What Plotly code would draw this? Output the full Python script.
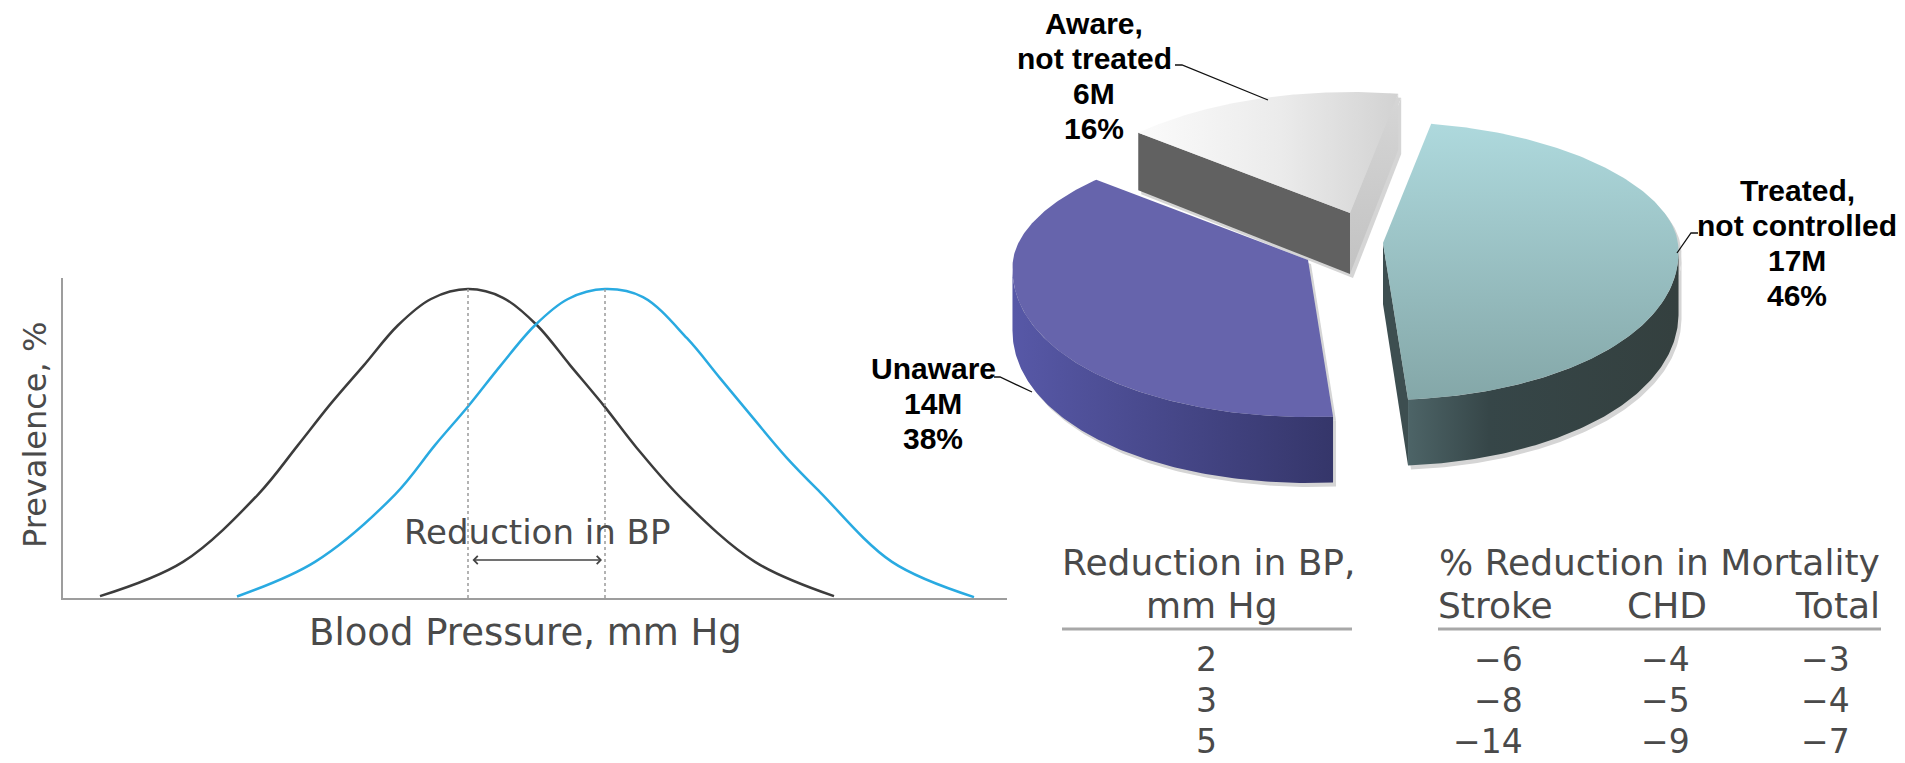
import numpy as np
import plotly.graph_objects as go

W, H = 1905, 763

# ---------------- data ----------------
# Left panel: BP distributions (arbitrary BP units) vs prevalence (% of peak)
bp_baseline = [17.4, 25.2, 33.2, 37.2, 40.5, 43.8, 47.2, 50.5, 54.2, 58.0, 62.4, 65.7, 69.0, 72.4, 75.7, 82.9, 91.1]
prev_baseline = [0.5, 11.7, 33.5, 49.5, 62.0, 75.4, 88.3, 96.8, 100.0, 97.4, 84.1, 71.2, 58.3, 45.3, 34.3, 11.7, 0.3]
bp_reduced = [3.7, 12.0, 19.5, 23.5, 26.8, 30.1, 33.5, 36.8, 40.5, 44.0, 47.4, 50.7, 54.2, 57.4, 62.0, 69.2, 77.1]
prev_reduced = [0.6, 11.7, 33.5, 49.5, 63.0, 75.4, 88.3, 96.8, 100.0, 97.2, 88.3, 75.4, 61.8, 48.5, 31.7, 11.7, 0.6]

# Pie: hypertension status
pie_names = [["Treated,", "not controlled"], ["Unaware"], ["Aware,", "not treated"]]
pie_millions = [17, 14, 6]
pie_percent = [46, 38, 16]

# Table
bp_reduction = [2, 3, 5]
stroke = [-6, -8, -14]
chd = [-4, -5, -9]
total = [-3, -4, -7]

# ---------------- style / layout constants ----------------
GREY_TXT = "#4a4a4a"
LIGHT_FONT = "DejaVu Sans, Liberation Sans, Arial, sans-serif"
BOLD_FONT = "Liberation Sans, Arial, sans-serif"
AXIS_GREY = "#9d9d9d"

PIE_CX, PIE_CY = 1345, 240
PIE_A = 295
PIE_B_BACK, PIE_B_FRONT = 121, 157
PIE_PERSP = 0.06
PIE_DEPTH, PIE_DDEPTH = 61, 5
PIE_START = -80.0
PIE_PULL = [(38, 3), (-37, 20), (5, -27)]
SHADOW_OFF = (3, 4)
SHADOW_COL = "#d5d5d5"
SLICE_STYLE = [
    dict(top=("vertical", [[0, "#aed9dd"], [1, "#84a7a8"]]),
         wall=("horizontal", [[0, "#4d6467"], [0.3, "#364648"], [1, "#34403f"]]),
         face_s="#3b4b4d", face_e="#3d4e50"),
    dict(top="#6664ac",
         wall=("horizontal", [[0, "#5758a7"], [1, "#35366a"]]),
         face_s="#4a4a8e", face_e="#4a4a8e"),
    dict(top=("horizontal", [[0, "#fbfbfb"], [0.55, "#ebebeb"], [1, "#d2d2d2"]]),
         wall="#bdbdbd",
         face_s="#616161", face_e=("vertical", [[0, "#d6d6d6"], [1, "#c2c2c2"]])),
]
LABEL_POS = [(1797, 190), (933, 368), (1094, 23)]   # centre x, first line y
LINE_STEP = 35
LEADERS = [
    [(1698, 233), (1691, 233), (1677, 253)],
    [(994, 377), (1000, 377), (1032, 392)],
    [(1175, 65), (1182, 65), (1268, 100)],
]

fig = go.Figure()

# ---------------- left panel ----------------
fig.add_trace(go.Scatter(x=bp_reduced, y=prev_reduced, mode="lines",
                         line=dict(color="#3c3c3c", width=2.5, shape="spline", smoothing=1.0),
                         hoverinfo="skip", showlegend=False, xaxis="x", yaxis="y"))
fig.add_trace(go.Scatter(x=bp_baseline, y=prev_baseline, mode="lines",
                         line=dict(color="#29aae1", width=2.5, shape="spline", smoothing=1.0),
                         hoverinfo="skip", showlegend=False, xaxis="x", yaxis="y"))

pk_red = bp_reduced[int(np.argmax(prev_reduced))]
pk_base = bp_baseline[int(np.argmax(prev_baseline))]
for pk in (pk_red, pk_base):
    fig.add_trace(go.Scatter(x=[pk, pk], y=[0, max(prev_reduced)], mode="lines",
                             line=dict(color="#9a9a9a", width=1.5, dash="dot"),
                             hoverinfo="skip", showlegend=False, xaxis="x", yaxis="y"))

ann = []
ann.append(dict(x=pk_base - 0.3, y=12.3, ax=pk_red + 0.3, ay=12.3, xref="x", yref="y",
                axref="x", ayref="y", text="", showarrow=True, arrowhead=4, startarrowhead=4,
                arrowside="end+start", arrowsize=1.2, arrowwidth=1.3, arrowcolor="#444"))
ann.append(dict(x=(pk_red + pk_base) / 2, y=21.4, xref="x", yref="y", text="Reduction in BP",
                showarrow=False, font=dict(family=LIGHT_FONT, size=34, color=GREY_TXT),
                xanchor="center", yanchor="middle"))


def P(x, y):
    return x / W, 1 - y / H


def text_px(x, y, t, size, xanchor="center", angle=0, font=LIGHT_FONT, color=GREY_TXT):
    px, py = P(x, y)
    ann.append(dict(x=px, y=py, xref="paper", yref="paper", text=t, showarrow=False,
                    textangle=angle, xanchor=xanchor, yanchor="middle",
                    font=dict(family=font, size=size, color=color)))


text_px(35, 435, "Prevalence, %", 32, angle=-90)
text_px(525, 632, "Blood Pressure, mm Hg", 37)

# ---------------- pie (3-D look, drawn from the values) ----------------
def rim(apx, apy, phi):
    r = np.radians(phi)
    sn = np.sin(r)
    b = np.where(sn > 0, PIE_B_FRONT, PIE_B_BACK)
    return (apx + PIE_A * np.cos(r) * (1 + PIE_PERSP * sn), apy + b * sn)


def dep(phi):
    return PIE_DEPTH + PIE_DDEPTH * np.sin(np.radians(phi))


grid = np.linspace(-90, 90, 1801)
sil_r = grid[np.argmax(np.cos(np.radians(grid)) * (1 + PIE_PERSP * np.sin(np.radians(grid))))]
grid2 = np.linspace(90, 270, 1801)
sil_l = grid2[np.argmin(np.cos(np.radians(grid2)) * (1 + PIE_PERSP * np.sin(np.radians(grid2))))]


def poly(xs, ys, fill):
    xs, ys = [float(v) for v in xs], [float(v) for v in ys]
    kw = dict(x=xs, y=ys, mode="lines", fill="toself", line=dict(width=0),
              hoverinfo="skip", showlegend=False, xaxis="x2", yaxis="y2")
    if isinstance(fill, str):
        kw["fillcolor"] = fill
    else:
        kind, cs = fill
        if kind == "horizontal":
            kw["fillgradient"] = dict(type="horizontal", colorscale=cs, start=min(xs), stop=max(xs))
        else:
            kw["fillgradient"] = dict(type="vertical", colorscale=cs, start=min(ys), stop=max(ys))
    fig.add_trace(go.Scatter(**kw))


tot = float(sum(pie_millions))
spans = []
a0 = PIE_START
for v in pie_millions:
    spans.append((a0, a0 + 360.0 * v / tot))
    a0 += 360.0 * v / tot

for i in [2, 1, 0]:
    s, e = spans[i]
    st = SLICE_STYLE[i]
    apx, apy = PIE_CX + PIE_PULL[i][0], PIE_CY + PIE_PULL[i][1]
    faces = []   # (xs, ys, fill)
    if np.cos(np.radians(s)) < 0:
        rx, ry = rim(apx, apy, s)
        faces.append(([apx, rx, rx, apx], [apy, ry, ry + dep(s), apy + PIE_DEPTH], st["face_s"]))
    if np.cos(np.radians(e)) > 0:
        rx, ry = rim(apx, apy, e)
        faces.append(([apx, rx, rx, apx], [apy, ry, ry + dep(e), apy + PIE_DEPTH], st["face_e"]))
    for off in (0, 360, -360):
        w1, w2 = max(s, sil_r + off), min(e, sil_l + off)
        if w2 > w1:
            ph = np.linspace(w1, w2, 120)
            xs, ys = rim(apx, apy, ph)
            faces.append((np.concatenate([xs, xs[::-1]]),
                          np.concatenate([ys, (ys + dep(ph))[::-1]]), st["wall"]))
    ph = np.linspace(s, e, 200)
    xs, ys = rim(apx, apy, ph)
    faces.append((np.concatenate([[apx], xs, [apx]]), np.concatenate([[apy], ys, [apy]]), st["top"]))
    # soft drop shadow first, then the faces
    for fx, fy, _ in faces:
        poly(np.asarray(fx, float) + SHADOW_OFF[0], np.asarray(fy, float) + SHADOW_OFF[1], SHADOW_COL)
    for fx, fy, fc in faces:
        poly(fx, fy, fc)

# labels + leader lines
for i in range(3):
    lines = pie_names[i] + [f"{pie_millions[i]}M", f"{pie_percent[i]}%"]
    lx, ly = LABEL_POS[i]
    for k, t in enumerate(lines):
        ann.append(dict(x=lx, y=ly + k * LINE_STEP, xref="x2", yref="y2", text=f"<b>{t}</b>",
                        showarrow=False, xanchor="center", yanchor="middle",
                        font=dict(family=BOLD_FONT, size=30, color="#000000")))
    pts = LEADERS[i]
    fig.add_trace(go.Scatter(x=[p[0] for p in pts], y=[p[1] for p in pts], mode="lines",
                             line=dict(color="#111111", width=1.3), hoverinfo="skip",
                             showlegend=False, xaxis="x2", yaxis="y2"))

# ---------------- table ----------------
text_px(1209, 562, "Reduction in BP,", 36)
text_px(1212, 605, "mm Hg", 36)
text_px(1659, 562, "% Reduction in Mortality", 36)
text_px(1495, 605, "Stroke", 36)
text_px(1667, 605, "CHD", 36)
text_px(1837, 605, "Total", 36)
row_y = [659, 700, 741]
col_right = [1525, 1692, 1852]
for r in range(len(bp_reduction)):
    text_px(1206, row_y[r], str(bp_reduction[r]), 33)
    for c, col in enumerate([stroke, chd, total]):
        text_px(col_right[c], row_y[r], str(col[r]).replace("-", "\u2212"), 33, xanchor="right")

shapes = []
for x0, x1 in [(1062, 1352), (1438, 1881)]:
    shapes.append(dict(type="line", xref="paper", yref="paper", x0=x0 / W, x1=x1 / W,
                       y0=1 - 629 / H, y1=1 - 629 / H, line=dict(color="#a8a8a8", width=3)))

fig.update_layout(
    width=W, height=H, margin=dict(l=0, r=0, t=0, b=0),
    paper_bgcolor="white", plot_bgcolor="rgba(0,0,0,0)",
    showlegend=False, annotations=ann, shapes=shapes,
    xaxis=dict(domain=[63 / W, 1007 / W], range=[0, 94.4], showline=True, linecolor=AXIS_GREY,
               linewidth=2, showgrid=False, zeroline=False, showticklabels=False, ticks=""),
    yaxis=dict(domain=[(H - 598) / H, (H - 278) / H], range=[0, 103.6], showline=True,
               linecolor=AXIS_GREY, linewidth=2, showgrid=False, zeroline=False,
               showticklabels=False, ticks=""),
    xaxis2=dict(domain=[0, 1], range=[0, W], visible=False, anchor="y2"),
    yaxis2=dict(domain=[0, 1], range=[H, 0], visible=False, anchor="x2"),
)

fig.write_html("out.html", config={"displayModeBar": False},
               post_script="document.body.style.margin='0';document.body.style.overflow='hidden';")
